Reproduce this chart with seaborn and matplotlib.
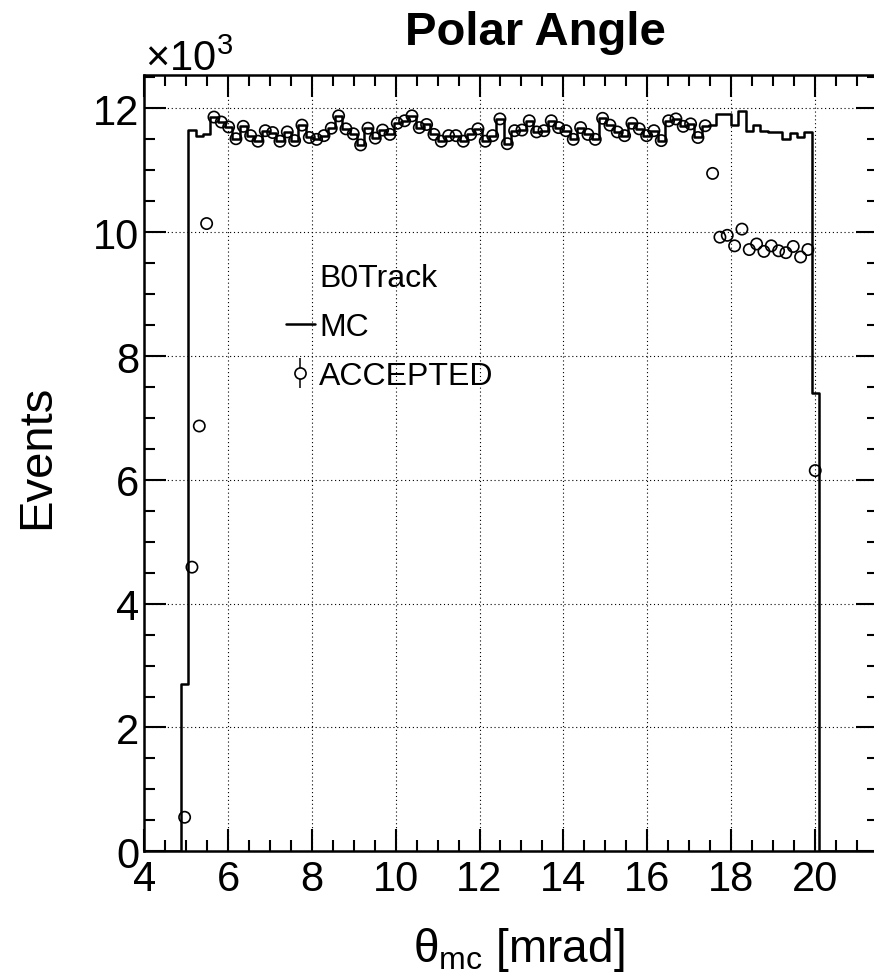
import numpy as np
import pandas as pd
import matplotlib
matplotlib.use("Agg")
import matplotlib.pyplot as plt
import seaborn as sns
from matplotlib.lines import Line2D
from matplotlib.legend_handler import HandlerTuple
from matplotlib.ticker import MultipleLocator

sns.set_theme(style="ticks")
plt.rcParams['font.family'] = ['Liberation Sans', 'DejaVu Sans']
plt.rcParams['mathtext.fontset'] = 'custom'
plt.rcParams['mathtext.rm'] = 'Liberation Sans'
plt.rcParams['mathtext.it'] = 'Liberation Sans:italic'
plt.rcParams['text.color'] = 'black'
plt.rcParams['axes.labelcolor'] = 'black'
plt.rcParams['xtick.color'] = 'black'
plt.rcParams['ytick.color'] = 'black'

# Histogram binning: 100 bins over 4.0 - 21.5 mrad, first filled bin index 5
hist_lo = 4.0
hist_hi = 21.5
n_bins = 100
first_filled_bin = 5

# MC counts per bin (x10^3)
mc_k = [2.70, 11.65, 11.55, 11.58,
        11.86, 11.78, 11.70, 11.51, 11.71, 11.56, 11.47, 11.64, 11.61, 11.47,
        11.62, 11.48, 11.73, 11.53, 11.50, 11.56, 11.68, 11.88, 11.67, 11.59,
        11.41, 11.68, 11.52, 11.65, 11.58, 11.76, 11.80, 11.88, 11.69, 11.74,
        11.58, 11.47, 11.56, 11.56, 11.47, 11.58, 11.67, 11.47, 11.56, 11.83,
        11.43, 11.64, 11.65, 11.80, 11.62, 11.64, 11.80, 11.69, 11.64, 11.50,
        11.69, 11.58, 11.50, 11.84, 11.73, 11.62, 11.56, 11.76, 11.67, 11.56,
        11.64, 11.48, 11.80, 11.83, 11.71, 11.75, 11.53, 11.72,
        11.73, 11.91, 11.91, 11.73, 11.95, 11.64, 11.73, 11.64, 11.62, 11.62,
        11.51, 11.61, 11.54, 11.62, 7.40]

# ACCEPTED counts per bin (x10^3)
acc_k = [0.55, 4.59, 6.87, 10.14,
         11.86, 11.78, 11.70, 11.51, 11.71, 11.56, 11.47, 11.64, 11.61, 11.47,
         11.62, 11.48, 11.73, 11.53, 11.50, 11.56, 11.68, 11.88, 11.67, 11.59,
         11.41, 11.68, 11.52, 11.65, 11.58, 11.76, 11.80, 11.88, 11.69, 11.74,
         11.58, 11.47, 11.56, 11.56, 11.47, 11.58, 11.67, 11.47, 11.56, 11.83,
         11.43, 11.64, 11.65, 11.80, 11.62, 11.64, 11.80, 11.69, 11.64, 11.50,
         11.69, 11.58, 11.50, 11.84, 11.73, 11.62, 11.56, 11.76, 11.67, 11.56,
         11.64, 11.48, 11.80, 11.83, 11.71, 11.75, 11.53, 11.72,
         10.95, 9.92, 9.95, 9.78, 10.05, 9.72, 9.81, 9.69, 9.78, 9.70,
         9.67, 9.77, 9.60, 9.72, 6.15]

x_major_ticks = [4, 6, 8, 10, 12, 14, 16, 18, 20]
y_major_ticks = [0, 2, 4, 6, 8, 10, 12]

edges = np.linspace(hist_lo, hist_hi, n_bins + 1)
centers = 0.5 * (edges[:-1] + edges[1:])
theta = centers[first_filled_bin:first_filled_bin + len(mc_k)]
df = pd.DataFrame({"theta": theta, "mc": mc_k, "acc": acc_k})

fig = plt.figure(figsize=(8.74, 9.79), dpi=100)
ax = fig.add_axes([0.1651, 0.1294, 0.839, 0.793])
ax.set_facecolor("white")

sns.histplot(data=df, x="theta", weights="mc", bins=n_bins,
             binrange=(hist_lo, hist_hi), element="step",
             fill=False, color="black", linewidth=1.8, ax=ax, zorder=2)
sns.scatterplot(data=df, x="theta", y="acc", marker="o", s=66,
                facecolor="none", edgecolor="black", linewidth=1.2,
                ax=ax, zorder=3, legend=False)

ax.set_xlim(hist_lo, hist_hi)
ax.set_ylim(0, 12.54)
ax.set_xticks(x_major_ticks)
ax.set_yticks(y_major_ticks)
ax.xaxis.set_minor_locator(MultipleLocator(0.5))
ax.yaxis.set_minor_locator(MultipleLocator(0.5))
ax.tick_params(which="both", direction="in", top=True, right=True,
               colors="black", width=1.5)
ax.tick_params(which="major", length=15.5, labelsize=30)
ax.tick_params(axis="x", which="major", pad=5.5)
ax.tick_params(axis="y", which="major", pad=3.5)
ax.tick_params(which="minor", length=8)
for s in ax.spines.values():
    s.set_linewidth(1.8)
    s.set_color("black")
ax.grid(True, which="major", linestyle=(0, (1, 2.5)), color="black", linewidth=0.8)
ax.set_axisbelow(True)

ax.set_xlabel(r"θ$_{\rm mc}$ [mrad]", fontsize=33, color="black")
ax.xaxis.set_label_coords(0.511, -0.126)
ax.xaxis.label.set_va("center")
ax.set_ylabel("Events", fontsize=34, color="black")
ax.yaxis.set_label_coords(-0.1463, 0.509)
ax.yaxis.label.set_va("center")

fig.text(145 / 874, 1 - 71 / 979, r"×10$^{3}$", fontsize=30,
         ha="left", va="baseline", color="black")
fig.text(535 / 874, 1 - 45 / 979, "Polar Angle", fontsize=34,
         fontweight="bold", ha="center", va="baseline", color="black")

h_head = Line2D([], [], linestyle="none")
h_mc = Line2D([], [], color="black", linewidth=1.8)
h_acc_e = Line2D([], [], color="black", marker="|", markersize=22,
                 linestyle="none", markeredgewidth=1.1)
h_acc_m = Line2D([], [], color="black", marker="o", markerfacecolor="white",
                 markersize=8, linestyle="none", markeredgewidth=1.2)
leg = ax.legend([h_head, h_mc, (h_acc_e, h_acc_m)],
                ["B0Track", "MC", "ACCEPTED"],
                handler_map={tuple: HandlerTuple(ndivide=1)},
                frameon=False, fontsize=23, labelcolor="black",
                loc="upper left", bbox_to_anchor=(286 / 874, 1 - 264 / 979),
                bbox_transform=fig.transFigure, handlelength=0.9,
                handletextpad=0.13, labelspacing=0.6, borderpad=0,
                borderaxespad=0)

fig.savefig("out.png", dpi=100)
